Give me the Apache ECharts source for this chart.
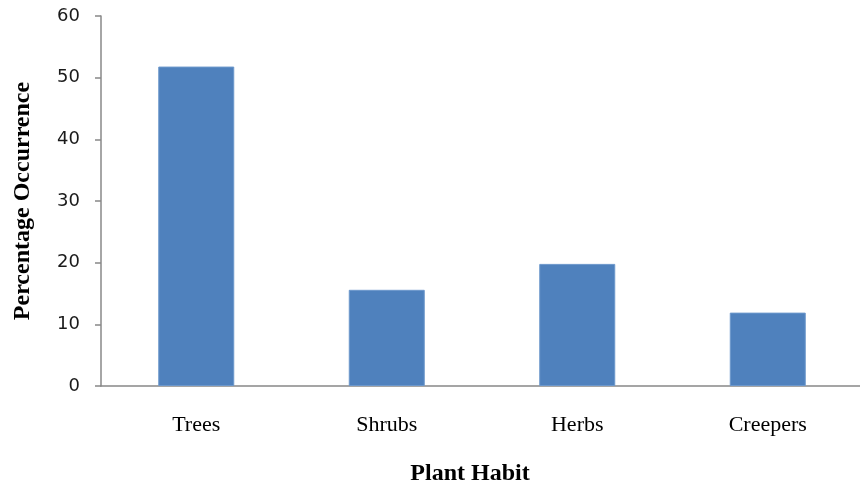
<!DOCTYPE html>
<html>
<head>
<meta charset="utf-8">
<script src="https://cdn.jsdelivr.net/npm/echarts@6/dist/echarts.min.js"></script>
<style>html,body{margin:0;padding:0;background:#fff;}#c{width:860px;height:488px;}</style>
</head>
<body>
<div id="c"></div>
<script>
const categories = ["Trees", "Shrubs", "Herbs", "Creepers"];
const values = [51.8, 15.6, 19.8, 11.9];
const yTicks = [0, 10, 20, 30, 40, 50, 60];

const chart = echarts.init(document.getElementById('c'));
chart.setOption({
  animation: false,
  grid: { left: 101, width: 762, top: 16, bottom: 102, containLabel: false, outerBoundsMode: 'none' },
  xAxis: {
    type: 'category',
    data: categories,
    name: 'Plant Habit',
    nameLocation: 'middle',
    nameGap: 76,
    nameTextStyle: { fontFamily: 'Liberation Serif', fontWeight: 'bold', fontSize: 24, color: '#000', padding: [0, 24, 0, 0] },
    axisLine: { lineStyle: { color: '#888', width: 1.5 } },
    axisTick: { length: 10, lineStyle: { color: '#888', width: 1.5 } },
    axisLabel: { margin: 28, fontFamily: 'Liberation Serif', fontSize: 22, color: '#000' }
  },
  yAxis: {
    type: 'value',
    min: yTicks[0],
    max: yTicks[yTicks.length - 1],
    interval: 10,
    name: 'Percentage Occurrence',
    nameLocation: 'middle',
    nameGap: 66,
    nameTextStyle: { fontFamily: 'Liberation Serif', fontWeight: 'bold', fontSize: 24, color: '#000' },
    splitLine: { show: false },
    axisLine: { show: true, lineStyle: { color: '#888', width: 1.5 } },
    axisTick: { show: true, length: 6, lineStyle: { color: '#888', width: 1.5 } },
    axisLabel: { margin: 21, fontFamily: 'DejaVu Sans', fontSize: 18, color: '#1a1a1a' }
  },
  series: [{
    type: 'bar',
    data: values,
    barWidth: 76,
    itemStyle: { color: '#4f81bd', borderColor: '#6d98cc', borderWidth: 1 }
  }]
});
</script>
</body>
</html>
